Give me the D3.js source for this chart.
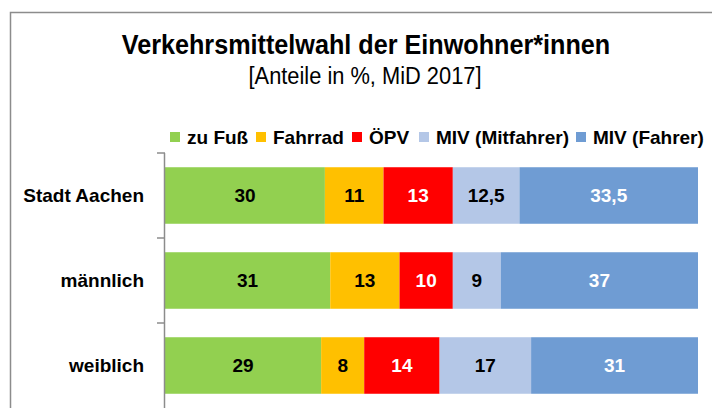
<!DOCTYPE html>
<html>
<head>
<meta charset="utf-8">
<script src="https://cdn.jsdelivr.net/npm/d3@7"></script>
<style>
  body { margin: 0; background: #fff; }
  text { font-family: "Liberation Sans", Arial, sans-serif; }
</style>
</head>
<body>
<div id="chart"></div>
<script>
// chart data
const categories = ["Stadt Aachen", "männlich", "weiblich"];
const seriesNames = ["zu Fuß", "Fahrrad", "ÖPV", "MIV (Mitfahrer)", "MIV (Fahrer)"];
const zuFuss = [30, 31, 29];
const fahrrad = [11, 13, 8];
const oepv = [13, 10, 14];
const mivMitfahrer = [12.5, 9, 17];
const mivFahrer = [33.5, 37, 31];
const seriesColors = ["#92d050", "#ffc000", "#ff0000", "#b4c7e7", "#6f9cd3"];
const labelColors = ["#000", "#000", "#fff", "#000", "#fff"];

const width = 712, height = 408;

let svg = d3.select("#chart")
    .append("svg")
    .attr("width", width)
    .attr("height", height);

// outer frame (only left and top visible)
svg.append("path")
    .attr("d", "M10.5,408 V12.5 H712")
    .attr("fill", "none")
    .attr("stroke", "#8c8c8c")
    .attr("stroke-width", 1.5);

// title, slightly condensed like the original narrow font
svg.append("text")
    .attr("transform", "translate(366,54) scale(0.9,1)")
    .attr("text-anchor", "middle")
    .style("font-size", "28px")
    .style("font-weight", "bold")
    .text("Verkehrsmittelwahl der Einwohner*innen");

svg.append("text")
    .attr("transform", "translate(365,84) scale(0.91,1)")
    .attr("text-anchor", "middle")
    .style("font-size", "24px")
    .text("[Anteile in %, MiD 2017]");

// build rows, stacked as 100% shares
const valueTable = [zuFuss, fahrrad, oepv, mivMitfahrer, mivFahrer];
const rows = categories.map(function(c, i) {
    let obj = {cat: c};
    seriesNames.forEach(function(s, k) { obj[s] = valueTable[k][i]; });
    return obj;
});
const stacked = d3.stack().keys(seriesNames).offset(d3.stackOffsetExpand)(rows);

const x = d3.scaleLinear().domain([0, 1]).range([165, 698]);
const y = d3.scaleBand().domain(categories).range([153, 408])
    .paddingInner(0.335).paddingOuter(0.1675);

// bars
const layers = svg.selectAll("g.layer")
    .data(stacked)
    .join("g")
    .attr("class", "layer")
    .attr("fill", function(d, k) { return seriesColors[k]; });

layers.selectAll("rect")
    .data(function(d) { return d; })
    .join("rect")
    .attr("x", function(d) { return x(d[0]); })
    .attr("y", function(d) { return y(d.data.cat); })
    .attr("width", function(d) { return x(d[1]) - x(d[0]); })
    .attr("height", y.bandwidth());

// value labels (original values, decimal comma)
layers.each(function(layer, k) {
    d3.select(this).selectAll("text")
        .data(layer)
        .join("text")
        .attr("x", function(d) { return (x(d[0]) + x(d[1])) / 2; })
        .attr("y", function(d) { return y(d.data.cat) + y.bandwidth() / 2; })
        .attr("dy", "0.36em")
        .attr("text-anchor", "middle")
        .attr("fill", labelColors[k])
        .style("font-size", "19px")
        .style("font-weight", "bold")
        .text(function(d) { return String(d.data[layer.key]).replace(".", ","); });
});

// category axis with ticks between bands
const gap = (y.step() - y.bandwidth()) / 2;
svg.append("line")
    .attr("x1", x(0) - 0.5).attr("x2", x(0) - 0.5)
    .attr("y1", y(categories[0]) - gap).attr("y2", height)
    .attr("stroke", "#8c8c8c").attr("stroke-width", 1.5);

svg.selectAll("line.tick")
    .data(categories)
    .join("line")
    .attr("class", "tick")
    .attr("x1", x(0) - 8).attr("x2", x(0))
    .attr("y1", function(d) { return y(d) - gap; })
    .attr("y2", function(d) { return y(d) - gap; })
    .attr("stroke", "#8c8c8c").attr("stroke-width", 1.5);

svg.selectAll("text.cat")
    .data(categories)
    .join("text")
    .attr("class", "cat")
    .attr("x", 144)
    .attr("y", function(d) { return y(d) + y.bandwidth() / 2; })
    .attr("dy", "0.36em")
    .attr("text-anchor", "end")
    .style("font-size", "19px")
    .style("font-weight", "bold")
    .text(function(d) { return d; });

// legend
const legendX = [170, 256, 352, 419, 576];
const legend = svg.selectAll("g.legend")
    .data(seriesNames)
    .join("g")
    .attr("class", "legend")
    .attr("transform", function(d, k) { return "translate(" + legendX[k] + ",137)"; });

legend.append("rect")
    .attr("x", 0).attr("y", -5)
    .attr("width", 10).attr("height", 10)
    .attr("fill", function(d, k) { return seriesColors[k]; });

legend.append("text")
    .attr("x", 17)
    .attr("dy", "0.36em")
    .style("font-size", "19px")
    .style("font-weight", "bold")
    .text(function(d) { return d; });
</script>
</body>
</html>
